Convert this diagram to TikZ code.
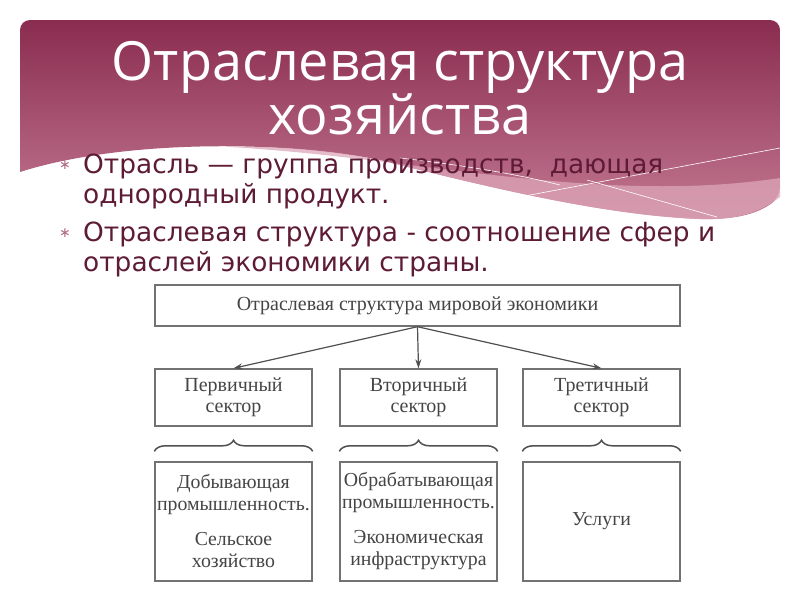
\documentclass[tikz,border=0pt]{standalone}
\usepackage{fontspec}
\setmainfont{Liberation Serif}
\newfontfamily\titlefont{Open Sans}
\newfontfamily\bodyfont{DejaVu Sans}
\usetikzlibrary{arrows.meta,decorations.pathreplacing}

\definecolor{bannertop}{HTML}{8A2C4F}
\definecolor{bannerbot}{HTML}{C27891}
\definecolor{wavepink}{HTML}{DDA6B9}
\definecolor{bodytext}{HTML}{5E1B35}
\definecolor{bulletpink}{HTML}{B06A85}
\definecolor{boxline}{HTML}{727272}
\definecolor{boxtext}{HTML}{454545}

\tikzset{
  titleline/.style={anchor=base, text=white, font=\titlefont\fontsize{54}{54}\selectfont},
  bodyline/.style={anchor=base west, text=bodytext, font=\bodyfont\fontsize{26.4}{30}\selectfont, inner sep=0pt},
  bulletmark/.style={text=bulletpink, font=\bodyfont\fontsize{14}{14}\selectfont, inner sep=0pt},
  headbox/.style={draw=boxline, line width=1.4pt, fill=white, minimum width=525pt, minimum height=41pt,
    inner sep=0pt, text=boxtext, font=\fontsize{20}{22}\selectfont},
  sectorbox/.style={draw=boxline, line width=1.4pt, fill=white, minimum width=157pt, minimum height=57pt,
    inner sep=0pt, align=center, text=boxtext, font=\fontsize{20}{21}\selectfont},
  branchbox/.style={draw=boxline, line width=1.4pt, fill=white, minimum width=157pt, minimum height=119pt,
    inner sep=0pt, align=center, text=boxtext, font=\fontsize{19.8}{22}\selectfont},
  flow/.style={draw=boxline!70!black, line width=1.2pt, -{Stealth[length=9pt,width=6pt]}},
  curly/.style={draw=boxline!70!black, line width=1.5pt, decorate, decoration={brace, amplitude=11pt}}
}

\begin{document}
\begin{tikzpicture}[x=1pt, y=-1pt]
	\useasboundingbox (0,0) rectangle (800,600);
	\fill[white] (0,0) rectangle (800,600);

	% banner with wave
	\shade[top color=bannertop, bottom color=bannerbot, rounded corners=10pt]
		(20,172) -- (20,20) -- (780,20) -- (780,197) [sharp corners]
		.. controls (760,212) and (740,220) .. (700,219)
		.. controls (600,215) and (480,185) .. (380,160)
		.. controls (280,140) and (120,140) .. (20,172) -- cycle;
	\fill[wavepink, opacity=0.75]
		(230,147) .. controls (420,158) and (600,205) .. (780,178) -- (780,197)
		.. controls (760,212) and (740,220) .. (700,219)
		.. controls (600,215) and (480,185) .. (380,160)
		.. controls (330,150) and (280,146) .. (230,147) -- cycle;
	\draw[white, line width=0.6pt] (493,202) -- (780,148);
	\draw[white, line width=0.6pt] (587,180) -- (717,217);
	\draw[white, line width=0.6pt] (400,158) .. controls (470,166) and (520,175) .. (560,185);

	% title
	\node[titleline] (title1) at (400,80) {Отраслевая структура};
	\node[titleline] (title2) at (400,134) {хозяйства};

	% bullets
	\node[bulletmark] (mark1) at (65,165) {∗};
	\node[bodyline] (line1) at (83,173) {Отрасль — группа производств,~ дающая};
	\node[bodyline] (line2) at (83,203) {однородный продукт.};
	\node[bulletmark] (mark2) at (65,233) {∗};
	\node[bodyline] (line3) at (83,241) {Отраслевая структура - соотношение сфер и};
	\node[bodyline] (line4) at (83,271) {отраслей экономики страны.};

	% scheme
	\node[headbox] (world) at (417.5,305.5) {Отраслевая структура мировой экономики};

	\node[sectorbox] (primary) at (233.5,397.5) {Первичный\\сектор};
	\node[sectorbox] (secondary) at (418.5,397.5) {Вторичный\\сектор};
	\node[sectorbox] (tertiary) at (601.5,397.5) {Третичный\\сектор};

	\draw[flow] (world.south) -- (primary.north);
	\draw[flow] (world.south) -- (secondary.north);
	\draw[flow] (world.south) -- (tertiary.north);

	\node[branchbox] (extract) at (233.5,521.5) {Добывающая\\промышленность.\\[13pt]Сельское\\хозяйство};
	\node[branchbox] (process) at (418.5,521.5) {Обрабатывающая\\промышленность.\\[13pt]Экономическая\\инфраструктура};
	\node[branchbox] (services) at (601.5,521.5) {Услуги};

	\draw[curly] ([yshift=10pt]extract.north west) -- ([yshift=10pt]extract.north east);
	\draw[curly] ([yshift=10pt]process.north west) -- ([yshift=10pt]process.north east);
	\draw[curly] ([yshift=10pt]services.north west) -- ([yshift=10pt]services.north east);
\end{tikzpicture}
\end{document}
